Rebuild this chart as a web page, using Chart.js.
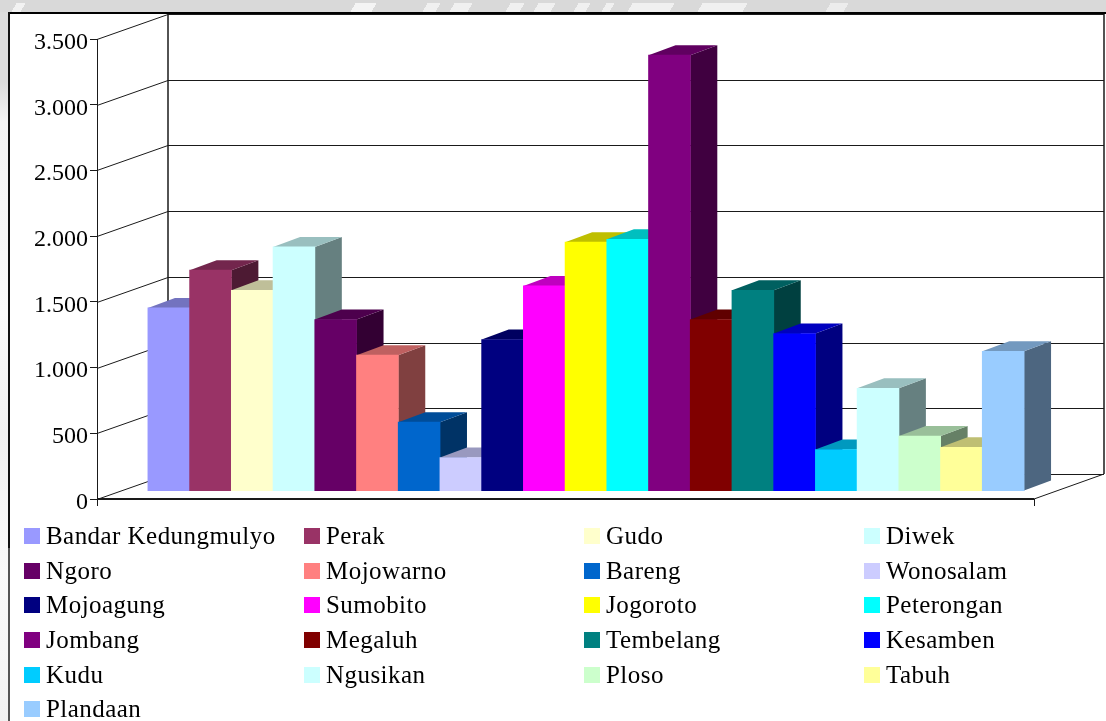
<!DOCTYPE html>
<html>
<head>
<meta charset="utf-8">
<title>Kecamatan Jombang</title>
<script src="https://cdn.jsdelivr.net/npm/chart.js"></script>
<style>
    html, body { margin: 0; padding: 0; background: #fff; overflow: hidden; }
    #page { position: relative; width: 1106px; height: 721px; background: #fff; }

    /* grey page band and faded stamp behind the chart frame */
    #bandTop { position: absolute; left: 0; top: 0; width: 1106px; height: 12px; background: #d9d9d9; overflow: hidden; }
    #stamp {
        position: absolute; left: 0; top: 3px; width: 1106px; height: 9px;
        transform: skewX(-28deg);
        background: linear-gradient(90deg,
            transparent 14px, #f2f2f2 14px, #f2f2f2 23px, transparent 23px,
            transparent 353px, #f4f4f4 353px, #f4f4f4 374px, transparent 374px,
            transparent 425px, #f0f0f0 425px, #f0f0f0 438px, transparent 438px,
            transparent 452px, #f0f0f0 452px, #f0f0f0 470px, transparent 470px,
            transparent 508px, #f0f0f0 508px, #f0f0f0 522px, transparent 522px,
            transparent 536px, #f0f0f0 536px, #f0f0f0 553px, transparent 553px,
            transparent 576px, #f0f0f0 576px, #f0f0f0 588px, transparent 588px,
            transparent 604px, #f0f0f0 604px, #f0f0f0 612px, transparent 612px,
            transparent 630px, #f0f0f0 630px, #f0f0f0 672px, transparent 672px,
            transparent 700px, #f0f0f0 700px, #f0f0f0 745px, transparent 745px,
            transparent 828px, #ececec 828px, #ececec 846px, transparent 846px);
    }
    #bandLeft {
        position: absolute; left: 0; top: 12px; width: 8px; height: 709px;
        background: linear-gradient(180deg, #dcdcdc 0, #dcdcdc 70px, #f3f3f3 110px, #fafafa 300px, #f1f1f1 420px, #fafafa 560px, #f2f2f2 709px);
    }
    #frameTop { position: absolute; left: 8px; top: 12px; width: 1098px; height: 2px; background: #000; }
    #frameLeft {
        position: absolute; left: 8px; top: 12px; width: 2px; height: 709px;
        background: linear-gradient(180deg, #111 0, #111 536px, #555 536px, #555 709px);
    }

    canvas { position: absolute; left: 0; top: 0; }

    #legend {
        position: absolute; left: 24px; top: 519px;
        display: grid;
        grid-template-columns: repeat(4, 280px);
        grid-auto-rows: 34.6px;
        font-family: "Liberation Serif", serif;
        font-size: 25px;
        letter-spacing: 0.45px;
        color: #000;
    }
    #legend div { display: flex; align-items: center; white-space: nowrap; }
    #legend span.box { width: 16px; height: 16px; margin-right: 6px; flex: none; }
</style>
</head>
<body>
<div id="page">
    <div id="bandTop"><div id="stamp"></div></div>
    <div id="bandLeft"></div>
    <canvas id="districtChart" width="1106" height="721"></canvas>
    <div id="frameTop"></div>
    <div id="frameLeft"></div>
    <div id="legend"></div>
</div>

<script>
// ==================== DATA ====================
const districts = [
    'Bandar Kedungmulyo', 'Perak', 'Gudo', 'Diwek',
    'Ngoro', 'Mojowarno', 'Bareng', 'Wonosalam',
    'Mojoagung', 'Sumobito', 'Jogoroto', 'Peterongan',
    'Jombang', 'Megaluh', 'Tembelang', 'Kesamben',
    'Kudu', 'Ngusikan', 'Ploso', 'Tabuh',
    'Plandaan'
];
const values = [
    1393, 1680, 1527, 1857,
    1304, 1033, 523, 254,
    1152, 1560, 1893, 1915,
    3316, 1304, 1527, 1198,
    315, 781, 418, 332,
    1063
];
const barColors = [
    '#9999FF', '#993366', '#FFFFCC', '#CCFFFF',
    '#660066', '#FF8080', '#0066CC', '#CCCCFF',
    '#000080', '#FF00FF', '#FFFF00', '#00FFFF',
    '#800080', '#800000', '#008080', '#0000FF',
    '#00CCFF', '#CCFFFF', '#CCFFCC', '#FFFF99',
    '#99CCFF'
];
const yMax = 3500;
const yStep = 500;

// ==================== 3D SETTINGS ====================
const WALL_DX = 71, WALL_DY = -25;   // floor depth, front axis to back wall
const BAR_DX = 27, BAR_DY = -10;     // depth of one bar
const BAR_SHIFT_X = 20.5, BAR_SHIFT_Y = -8;  // bars stand a little way in from the front edge
const LABEL_DROP = 3.5;              // tick labels sit slightly under their tick
const LINE_COLOR = '#1a1a1a';

function shade(hex, factor) {
    const n = parseInt(hex.slice(1), 16);
    const r = Math.round((n >> 16 & 255) * factor);
    const g = Math.round((n >> 8 & 255) * factor);
    const b = Math.round((n & 255) * factor);
    return 'rgb(' + r + ',' + g + ',' + b + ')';
}

function poly(ctx, pts, fill) {
    ctx.beginPath();
    ctx.moveTo(pts[0][0], pts[0][1]);
    for (let i = 1; i < pts.length; i++) ctx.lineTo(pts[i][0], pts[i][1]);
    ctx.closePath();
    ctx.fillStyle = fill;
    ctx.fill();
}

function segment(ctx, x1, y1, x2, y2) {
    ctx.beginPath();
    ctx.moveTo(x1, y1);
    ctx.lineTo(x2, y2);
    ctx.stroke();
}

// Back wall, floor and slanted gridlines, taken from the y scale ticks
const wallPlugin = {
    id: 'walls',
    beforeDraw(chart) {
        const ctx = chart.ctx;
        const area = chart.chartArea;
        const yScale = chart.scales.y;
        const backLeft = area.left + WALL_DX;
        const backRight = area.right + WALL_DX - 1;
        const backTop = yScale.getPixelForValue(yMax) + WALL_DY;
        const backBottom = yScale.getPixelForValue(0) + WALL_DY;

        ctx.save();
        ctx.strokeStyle = LINE_COLOR;
        ctx.lineWidth = 1;
        yScale.ticks.forEach(tick => {
            const y = Math.round(yScale.getPixelForValue(tick.value)) + 0.5;
            segment(ctx, area.left, y, backLeft, y + WALL_DY);
            segment(ctx, backLeft, y + WALL_DY, backRight, y + WALL_DY);
        });
        ctx.lineWidth = 1.5;
        segment(ctx, backLeft, backTop, backLeft, backBottom);
        segment(ctx, backRight, backTop, backRight, backBottom);
        ctx.lineWidth = 1;
        // right edge of the floor and the x axis end tick
        segment(ctx, area.right, area.bottom, backRight, backBottom);
        segment(ctx, area.right + 0.5, area.bottom, area.right + 0.5, area.bottom + 7);
        segment(ctx, area.left + 0.5, area.bottom, area.left + 0.5, area.bottom + 7);
        ctx.lineWidth = 2;
        segment(ctx, area.left, area.bottom, area.right, area.bottom);
        ctx.restore();
    }
};

// Bars are painted left to right so each one overlaps the side of the previous one
const barFacesPlugin = {
    id: 'barFaces',
    beforeDatasetsDraw(chart) {
        const ctx = chart.ctx;
        ctx.save();
        ctx.translate(BAR_SHIFT_X, BAR_SHIFT_Y);
        chart.getSortedVisibleDatasetMetas().forEach(meta => {
            const bar = meta.data[0];
            const color = chart.data.datasets[meta.index].backgroundColor;
            const left = bar.x - bar.width / 2;
            const right = bar.x + bar.width / 2;
            const top = bar.y;
            const base = bar.base;
            poly(ctx, [[right, top], [right + BAR_DX, top + BAR_DY], [right + BAR_DX, base + BAR_DY], [right, base]], shade(color, 0.5));
            poly(ctx, [[left, top], [left + BAR_DX, top + BAR_DY], [right + BAR_DX, top + BAR_DY], [right, top]], shade(color, 0.75));
            meta.controller.draw();
        });
        ctx.restore();
        return false;
    }
};

// Chart.js has no vertical offset option for y tick labels, so wrap the scale's label drawing
function dropTickLabels(scale) {
    if (scale._labelsDropped) return;
    scale._labelsDropped = true;
    const drawLabels = scale.drawLabels;
    scale.drawLabels = function(area) {
        this.ctx.save();
        this.ctx.translate(0, LABEL_DROP);
        drawLabels.call(this, area);
        this.ctx.restore();
    };
}

// ==================== CHART ====================
function initChart() {
    const chart = new Chart(document.getElementById('districtChart'), {
        type: 'bar',
        data: {
            labels: [''],
            datasets: districts.map((name, i) => ({
                label: name,
                data: [values[i]],
                backgroundColor: barColors[i],
                borderWidth: 0,
                inflateAmount: 0.4,
                barPercentage: 1,
                categoryPercentage: 0.935
            }))
        },
        options: {
            responsive: false,
            animation: false,
            layout: { padding: { top: 39, right: 72, bottom: 222, left: 0 } },
            plugins: {
                legend: { display: false },
                tooltip: { enabled: false }
            },
            scales: {
                x: {
                    afterFit(scale) { scale.height = 0; },
                    grid: { display: false },
                    border: { display: false },
                    ticks: { display: false }
                },
                y: {
                    min: 0,
                    max: yMax,
                    afterFit(scale) { scale.width = 97; },
                    afterUpdate: dropTickLabels,
                    ticks: {
                        stepSize: yStep,
                        padding: 2,
                        color: '#000',
                        font: { family: '"Liberation Serif", serif', size: 24 },
                        callback: value => String(value).replace(/\B(?=(\d{3})+$)/g, '.')
                    },
                    grid: { drawOnChartArea: false, drawTicks: true, tickLength: 7, color: LINE_COLOR },
                    border: { display: true, color: LINE_COLOR, width: 1 }
                }
            }
        },
        plugins: [wallPlugin, barFacesPlugin]
    });
    buildLegend(chart);
}

// Four column legend built from the chart's own legend items
function buildLegend(chart) {
    const box = document.getElementById('legend');
    const items = Chart.defaults.plugins.legend.labels.generateLabels(chart);
    items.forEach(item => {
        const row = document.createElement('div');
        const swatch = document.createElement('span');
        swatch.className = 'box';
        swatch.style.background = item.fillStyle;
        row.appendChild(swatch);
        row.appendChild(document.createTextNode(item.text));
        box.appendChild(row);
    });
}

initChart();
</script>
</body>
</html>
